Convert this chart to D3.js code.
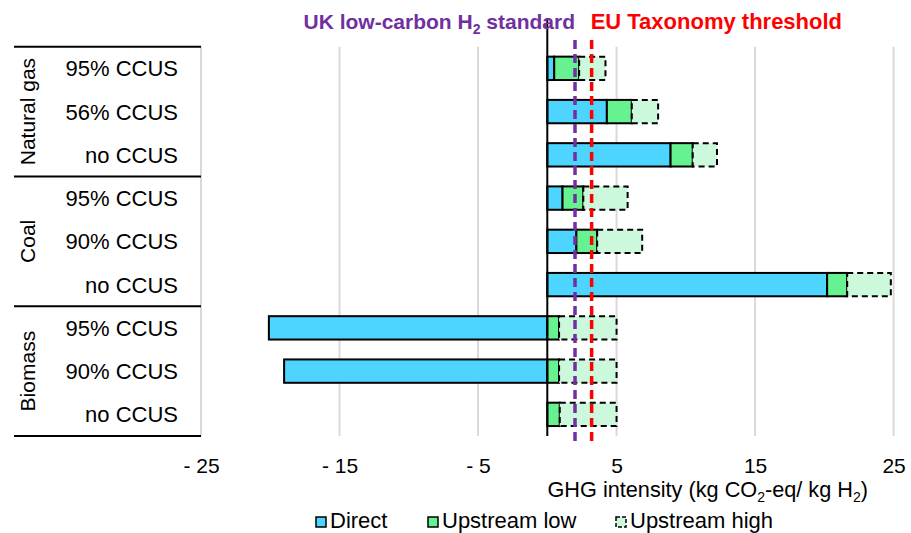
<!DOCTYPE html>
<html>
<head>
<meta charset="utf-8">
<script src="https://cdn.jsdelivr.net/npm/d3@7"></script>
<style>
  body { margin: 0; background: #fff; }
  text { font-family: "Liberation Sans", Arial, sans-serif; }
</style>
</head>
<body>
<div id="chart"></div>
<script>
// values (kg CO2-eq / kg H2)
var groups = ["Natural gas", "Coal", "Biomass"];
var routes = ["95% CCUS", "56% CCUS", "no CCUS",
              "95% CCUS", "90% CCUS", "no CCUS",
              "95% CCUS", "90% CCUS", "no CCUS"];
var direct       = [0.5, 4.3, 8.9, 1.1, 2.1, 20.2, -20.1, -19.0, 0];
var upstreamLow  = [1.8, 1.8, 1.6, 1.5, 1.5, 1.45, 0.85, 0.85, 0.9];
var upstreamHigh = [3.7, 3.7, 3.35, 4.7, 4.75, 4.6, 5.0, 5.0, 5.0];
var tickValues = [-25, -15, -5, 5, 15, 25];
var ukStandard = 2.0,
    euThreshold = 3.2;

var width = 911,
    height = 533,
    plotTop = 46.7,
    plotBottom = 436,
    fs = 21;

var colors = {direct: "#4dd4ff", low: "#66f290", high: "#ccf8dc"};

var rows = routes.map(function (r, i) {
  return {i: i, route: r, direct: direct[i], low: upstreamLow[i], high: upstreamHigh[i] - upstreamLow[i]};
});

var x = d3.scaleLinear().domain([-25, 25]).range([201, 893.6]);
var y = d3.scaleBand().domain(d3.range(rows.length))
    .range([plotTop, plotBottom]).paddingInner(0.46).paddingOuter(0.23);
var step = y.step();

var svg = d3.select("#chart").append("svg")
    .attr("width", width)
    .attr("height", height);

// gridlines
svg.selectAll("line.grid")
  .data(tickValues)
  .enter().append("line")
    .attr("class", "grid")
    .attr("x1", function (d) { return x(d); })
    .attr("x2", function (d) { return x(d); })
    .attr("y1", plotTop)
    .attr("y2", plotBottom)
    .style("stroke", "#d9d9d9")
    .style("stroke-width", 2);

// left table lines
svg.selectAll("line.sep")
  .data(d3.range(groups.length + 1))
  .enter().append("line")
    .attr("class", "sep")
    .attr("x1", 14)
    .attr("x2", x(-25))
    .attr("y1", function (d) { return plotTop + d * 3 * step; })
    .attr("y2", function (d) { return plotTop + d * 3 * step; })
    .style("stroke", "black")
    .style("stroke-width", 2);

// stacked bars
var stack = d3.stack().keys(["direct", "low", "high"]).offset(d3.stackOffsetDiverging);
var series = stack(rows);

var layer = svg.selectAll("g.layer")
  .data(series)
  .enter().append("g")
    .attr("class", "layer")
    .attr("fill", function (s) { return colors[s.key]; });

layer.selectAll("rect")
  .data(function (s) { return s.map(function (v) { v.key = s.key; return v; }); })
  .enter().append("rect")
    .filter(function (v) { return v[1] !== v[0]; })
    .attr("x", function (v) { return x(Math.min(v[0], v[1])); })
    .attr("width", function (v) { return Math.abs(x(v[1]) - x(v[0])); })
    .attr("y", function (v) { return y(v.data.i); })
    .attr("height", y.bandwidth())
    .style("stroke", "black")
    .style("stroke-width", 2)
    .style("stroke-dasharray", function (v) { return v.key == "high" ? "6,4" : null; });

// zero axis
svg.append("line")
  .attr("x1", x(0)).attr("x2", x(0))
  .attr("y1", 18).attr("y2", plotBottom)
  .style("stroke", "black")
  .style("stroke-width", 2);

// threshold lines
svg.append("line")
  .attr("x1", x(ukStandard)).attr("x2", x(ukStandard))
  .attr("y1", 40).attr("y2", 443)
  .style("stroke", "#7030a0")
  .style("stroke-width", 3.5)
  .style("stroke-dasharray", "9,5");

svg.append("line")
  .attr("x1", x(euThreshold)).attr("x2", x(euThreshold))
  .attr("y1", 40).attr("y2", 443)
  .style("stroke", "#ff0000")
  .style("stroke-width", 3.5)
  .style("stroke-dasharray", "9,5");

// titles
var t1 = svg.append("text")
  .attr("x", x(ukStandard))
  .attr("y", 29)
  .attr("text-anchor", "end")
  .attr("fill", "#7030a0")
  .style("font-weight", "bold")
  .style("font-size", fs + "px");
t1.append("tspan").text("UK low-carbon H");
t1.append("tspan").attr("dy", 5).style("font-size", "14px").text("2");
t1.append("tspan").attr("dy", -5).text(" standard");

svg.append("text")
  .attr("x", x(euThreshold) - 1)
  .attr("y", 29)
  .attr("fill", "#ff0000")
  .style("font-weight", "bold")
  .style("font-size", "22px")
  .text("EU Taxonomy threshold");

// row labels
svg.selectAll("text.route")
  .data(rows)
  .enter().append("text")
    .attr("class", "route")
    .attr("x", 178)
    .attr("y", function (d) { return y(d.i) + y.bandwidth() / 2 + 8; })
    .attr("text-anchor", "end")
    .style("font-size", "22px")
    .text(function (d) { return d.route; });

// group labels
svg.selectAll("text.group")
  .data(groups)
  .enter().append("text")
    .attr("class", "group")
    .attr("text-anchor", "middle")
    .attr("transform", function (d, i) {
      return "translate(35," + (plotTop + (i + 0.5) * 3 * step) + ") rotate(-90)";
    })
    .style("font-size", fs + "px")
    .text(function (d) { return d; });

// x axis
var axis = svg.append("g")
  .attr("transform", "translate(0," + plotBottom + ")")
  .call(d3.axisBottom(x)
    .tickValues(tickValues)
    .tickSize(0)
    .tickPadding(22)
    .tickFormat(function (d) { return d < 0 ? "- " + Math.abs(d) : d; }));
axis.select(".domain").remove();
axis.selectAll("text")
  .style("font-size", fs + "px")
  .style("font-family", "'Liberation Sans', Arial, sans-serif")
  .attr("fill", "black");

var lab = svg.append("text")
  .attr("x", 868)
  .attr("y", 497)
  .attr("text-anchor", "end")
  .style("font-size", "21.7px");
lab.append("tspan").text("GHG intensity (kg CO");
lab.append("tspan").attr("dy", 5).style("font-size", "14px").text("2");
lab.append("tspan").attr("dy", -5).text("-eq/ kg H");
lab.append("tspan").attr("dy", 5).style("font-size", "14px").text("2");
lab.append("tspan").attr("dy", -5).text(")");

// legend
var legendKeys = [
  {key: "direct", label: "Direct", x: 316},
  {key: "low", label: "Upstream low", x: 428},
  {key: "high", label: "Upstream high", x: 616}
];
var leg = svg.selectAll("g.legend")
  .data(legendKeys)
  .enter().append("g")
    .attr("class", "legend")
    .attr("transform", function (d) { return "translate(" + d.x + ",517)"; });
leg.append("rect")
  .attr("width", 10).attr("height", 10)
  .attr("fill", function (d) { return colors[d.key]; })
  .style("stroke", "black")
  .style("stroke-width", 1.5)
  .style("stroke-dasharray", function (d) { return d.key == "high" ? "4,2" : null; });
leg.append("text")
  .attr("x", 14)
  .attr("y", 11)
  .style("font-size", "22px")
  .text(function (d) { return d.label; });
</script>
</body>
</html>
